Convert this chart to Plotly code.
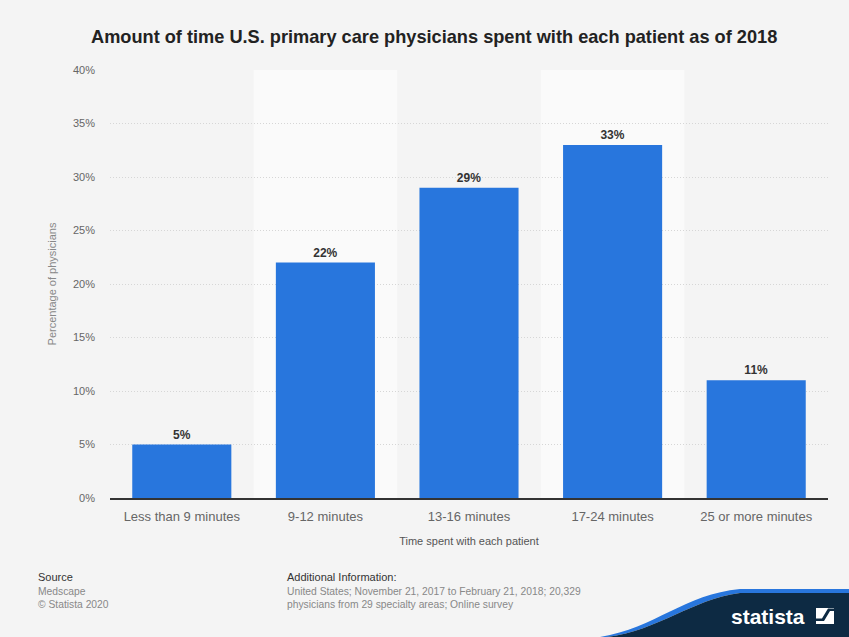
import plotly.graph_objects as go

categories = ["Less than 9 minutes", "9-12 minutes", "13-16 minutes", "17-24 minutes", "25 or more minutes"]
values = [5, 22, 29, 33, 11]
y_ticks = [0, 5, 10, 15, 20, 25, 30, 35, 40]
y_tick_labels = [f"{v}%" for v in y_ticks]

title_text = "Amount of time U.S. primary care physicians spent with each patient as of 2018"
x_title = "Time spent with each patient"
y_title = "Percentage of physicians"

W, H = 849, 637
L, R, T, B = 110, 21, 70, 139
pw, ph = W - L - R, H - T - B


def px(xp):
    return (xp - L) / pw


def py(yp):
    return (H - B - yp) / ph


font = "Liberation Sans, Arial, sans-serif"

fig = go.Figure()
fig.add_trace(go.Bar(
    x=categories, y=values,
    marker=dict(color="#2876dd", line=dict(width=0)),
    width=0.69,
    text=[f"{v}%" for v in values],
    textposition="outside",
    textfont=dict(family=font, size=12, color="#333333", weight="bold"),
    cliponaxis=False,
    hoverinfo="skip",
))

shapes = []
# alternating column bands
for i in range(len(categories)):
    if i % 2 == 1:
        shapes.append(dict(type="rect", xref="x", yref="paper", x0=i - 0.5, x1=i + 0.5,
                           y0=0, y1=1, fillcolor="#fafafa", line=dict(width=0), layer="below"))

navy = "M 607 637 C 660 630, 690 600, 740 593 L 849 593 L 849 637 Z"
blue = "M 600 637 C 655 628, 685 594, 740 589 L 849 589 L 849 593 L 740 593 C 690 600, 660 630, 607 637 Z"


def conv(path):
    out = []
    toks = path.replace(",", " ").split()
    nums = []
    for t in toks:
        try:
            nums.append(float(t))
        except ValueError:
            out.append(t)
            continue
        if len(nums) == 2:
            out.append(f"{px(nums[0]):.5f},{py(nums[1]):.5f}")
            nums = []
    return " ".join(out)


shapes.append(dict(type="path", xref="paper", yref="paper", path=conv(blue),
                   fillcolor="#2876dd", line=dict(width=0), layer="above"))
shapes.append(dict(type="path", xref="paper", yref="paper", path=conv(navy),
                   fillcolor="#0d2a43", line=dict(width=0), layer="above"))
# logo icon
shapes.append(dict(type="rect", xref="paper", yref="paper", x0=px(816), x1=px(834),
                   y0=py(624), y1=py(608), fillcolor="#ffffff", line=dict(width=0)))
shapes.append(dict(type="path", xref="paper", yref="paper",
                   path=conv("M 816 621 L 824 621 L 830 611 L 834 611 L 834 608.5 L 828 608.5 L 822 618.5 L 816 618.5 Z"),
                   fillcolor="#0d2a43", line=dict(width=0)))

annotations = [
    dict(text=f"<b>{title_text}</b>", x=px(434), y=py(37), xref="paper", yref="paper",
         showarrow=False, font=dict(family=font, size=18.2, color="#222222"), xanchor="center", yanchor="middle"),
    dict(text="Source", x=px(36), y=py(577), xref="paper", yref="paper", showarrow=False,
         font=dict(family=font, size=11, color="#333333"), xanchor="left", yanchor="middle"),
    dict(text="Medscape<br>© Statista 2020", x=px(36), y=py(598), xref="paper", yref="paper", showarrow=False,
         font=dict(family=font, size=10.3, color="#888888"), xanchor="left", yanchor="middle", align="left"),
    dict(text="Additional Information:", x=px(285), y=py(577), xref="paper", yref="paper", showarrow=False,
         font=dict(family=font, size=11, color="#333333"), xanchor="left", yanchor="middle"),
    dict(text="United States; November 21, 2017 to February 21, 2018; 20,329<br>physicians from 29 specialty areas; Online survey",
         x=px(285), y=py(598), xref="paper", yref="paper", showarrow=False,
         font=dict(family=font, size=10.3, color="#888888"), xanchor="left", yanchor="middle", align="left"),
    dict(text="<b>statista</b>", x=px(768), y=py(616), xref="paper", yref="paper", showarrow=False,
         font=dict(family="Liberation Sans Narrow, Liberation Sans, Arial", size=21, color="#ffffff"),
         xanchor="center", yanchor="middle"),
]

fig.update_layout(
    width=W, height=H,
    margin=dict(l=L, r=R, t=T, b=B, autoexpand=False),
    paper_bgcolor="#f4f4f4", plot_bgcolor="#f4f4f4",
    showlegend=False,
    shapes=shapes,
    annotations=annotations,
    font=dict(family=font),
    xaxis=dict(
        showgrid=False, showline=True, linecolor="#333333", linewidth=1.5,
        tickfont=dict(size=13, color="#666666"), ticks="",
        ticklabelstandoff=6,
        title=dict(text=x_title, font=dict(size=11, color="#555555"), standoff=14),
        range=[-0.5, len(categories) - 0.5],
    ),
    yaxis=dict(
        range=[0, 40], tickvals=y_ticks, ticktext=y_tick_labels,
        showgrid=True, gridcolor="#d6d6d6", griddash="1px,2px", gridwidth=1,
        zeroline=False, showline=False, ticks="",
        tickfont=dict(size=11, color="#666666"),
        ticklabelstandoff=14,
        title=dict(text=y_title, font=dict(size=11, color="#888888"), standoff=14),
    ),
)

fig.write_html("out.html", config={"displayModeBar": False},
               post_script="document.body.style.margin='0';document.body.style.overflow='hidden';")
